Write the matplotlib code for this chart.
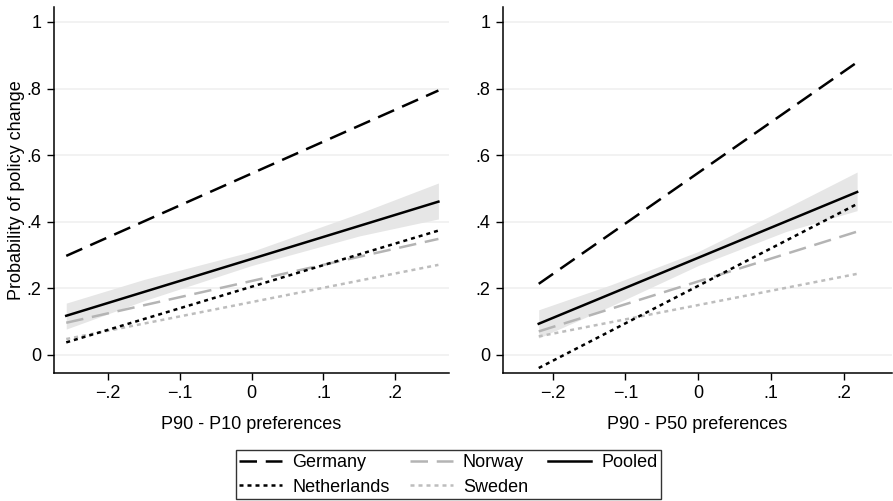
import numpy as np
from matplotlib import pyplot as plt
from matplotlib.lines import Line2D

plt.rcParams['font.family'] = ['Liberation Sans', 'DejaVu Sans']

# left panel: P90 - P10 preferences
x_left = [-0.258, 0.26]
germany_left = [0.297, 0.794]
netherlands_left = [0.037, 0.373]
norway_left = [0.096, 0.348]
sweden_left = [0.047, 0.27]
pooled_left = [0.117, 0.46]
ci_x_left = [-0.258, -0.15, 0.0, 0.15, 0.26]
ci_lo_left = [0.077, 0.162, 0.268, 0.357, 0.408]
ci_hi_left = [0.155, 0.226, 0.31, 0.425, 0.516]

# right panel: P90 - P50 preferences
x_right = [-0.219, 0.218]
germany_right = [0.213, 0.879]
netherlands_right = [-0.04, 0.453]
norway_right = [0.07, 0.37]
sweden_right = [0.055, 0.243]
pooled_right = [0.093, 0.489]
ci_x_right = [-0.219, -0.12, 0.0, 0.12, 0.218]
ci_lo_right = [0.05, 0.146, 0.268, 0.37, 0.433]
ci_hi_right = [0.135, 0.21, 0.31, 0.44, 0.549]

yticks = [0, 0.2, 0.4, 0.6, 0.8, 1.0]
ytick_labels = ['0', '.2', '.4', '.6', '.8', '1']
xticks = [-0.2, -0.1, 0.0, 0.1, 0.2]
xtick_labels = ['\u2212.2', '\u2212.1', '0', '.1', '.2']

styles = {
    'Germany': dict(color='black', dashes=(7, 3.5)),
    'Netherlands': dict(color='black', dashes=(1.6, 1.6)),
    'Norway': dict(color='#b4b4b4', dashes=(7, 3.5)),
    'Sweden': dict(color='#bdbdbd', dashes=(1.6, 1.6)),
    'Pooled': dict(color='black', linestyle='-'),
}

fs = 13

fig = plt.figure(figsize=(8.93, 5.01), dpi=100, facecolor='w')
ax1 = fig.add_axes([0.0605, 0.2555, 0.4425, 0.7305])
ax2 = fig.add_axes([0.5633, 0.2555, 0.4357, 0.7305])

panels = [
    (ax1, x_left, germany_left, netherlands_left, norway_left, sweden_left,
     pooled_left, ci_x_left, ci_lo_left, ci_hi_left, (-0.275, 0.275),
     'P90 - P10 preferences'),
    (ax2, x_right, germany_right, netherlands_right, norway_right,
     sweden_right, pooled_right, ci_x_right, ci_lo_right, ci_hi_right,
     (-0.268, 0.266), 'P90 - P50 preferences'),
]

for (ax, xs, ger, net, nor, swe, poo, cix, cilo, cihi, xlim,
     xlabel) in panels:
    ax.fill_between(cix, cilo, cihi, color='#e6e6e6', linewidth=0, zorder=1)
    for name, ys in [('Sweden', swe), ('Norway', nor), ('Netherlands', net),
                     ('Germany', ger), ('Pooled', poo)]:
        ax.plot(xs, ys, linewidth=1.8, zorder=3, **styles[name])
    ax.set_xlim(xlim)
    ax.set_ylim(-0.055, 1.045)
    ax.set_yticks(yticks)
    ax.set_yticklabels(ytick_labels)
    ax.set_xticks(xticks)
    ax.set_xticklabels(xtick_labels)
    ax.grid(axis='y', color='#f0f0f0', linewidth=1.2, zorder=0)
    ax.set_axisbelow(True)
    for s in ['top', 'right']:
        ax.spines[s].set_visible(False)
    for s in ['left', 'bottom']:
        ax.spines[s].set_linewidth(1.1)
    ax.tick_params(direction='out', length=5, width=1.0, labelsize=fs,
                   pad=4)
    ax.set_xlabel(xlabel, fontsize=fs, labelpad=10)

ax1.set_ylabel('Probability of policy change', fontsize=fs, labelpad=1)

handles = []
labels = ['Germany', 'Netherlands', 'Norway', 'Sweden', 'Pooled']
for name in labels:
    handles.append(Line2D([0], [0], linewidth=1.8, **styles[name]))
leg = fig.legend(handles, labels, ncol=3, loc='lower center',
                 bbox_to_anchor=(0.502, 0.0), fontsize=fs, frameon=True,
                 fancybox=False, edgecolor='black', handlelength=2.4,
                 columnspacing=1.1, handletextpad=0.55, borderpad=0.2,
                 labelspacing=0.42, borderaxespad=0.1)
leg.get_frame().set_linewidth(1.0)

fig.savefig('out.png', dpi=100)
